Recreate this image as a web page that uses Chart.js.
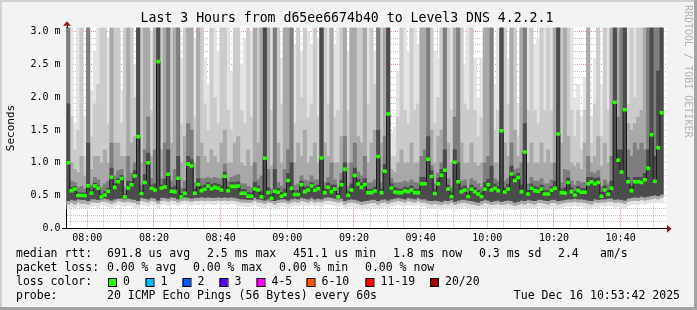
<!DOCTYPE html>
<html>
<head>
<meta charset="utf-8">
<script src="https://cdn.jsdelivr.net/npm/chart.js@4.4.1/dist/chart.umd.min.js"></script>
<style>
  html, body { margin: 0; padding: 0; background: #f3f3f3; }
  canvas { display: block; }
</style>
</head>
<body>
<canvas id="chart" width="697" height="310"></canvas>
<script>
// Median RTT per minute (ms), 07:54 .. 10:53 (last slot has no data yet)
const median = [
  1.0,0.575,0.6,0.5,0.5,0.5,0.65,0.54,0.645,0.61,
  0.48,0.51,0.565,0.78,0.625,0.71,0.76,0.48,0.615,0.665,
  0.8,1.4,0.53,0.7,1.0,0.61,0.585,2.545,0.615,0.63,
  0.825,0.565,0.56,0.765,0.48,0.535,0.98,0.95,0.535,0.67,
  0.575,0.595,0.645,0.605,0.625,0.61,0.585,0.795,0.575,0.64,
  0.64,0.645,0.535,0.535,0.49,0.49,0.6,0.585,0.48,1.07,
  0.545,0.46,0.565,0.55,0.49,0.515,0.73,0.61,0.515,0.515,
  0.665,0.56,0.585,0.645,0.58,0.605,1.075,0.545,0.625,0.56,
  0.6,0.48,0.665,0.9,0.505,0.585,0.805,0.675,0.625,0.67,
  0.545,0.545,0.57,1.095,0.545,0.87,1.745,0.615,0.555,0.545,
  0.545,0.57,0.56,0.585,0.545,0.545,0.68,0.68,1.055,0.79,
  0.53,0.68,0.81,0.885,0.6,0.485,1.01,0.71,0.56,0.585,
  0.485,0.595,0.56,0.525,0.485,0.595,0.665,0.585,0.61,0.575,
  1.49,0.555,0.6,0.83,0.73,0.775,0.56,1.165,0.525,0.61,
  0.575,0.565,0.6,0.525,0.525,0.58,0.61,1.44,0.545,0.54,
  0.7,0.56,0.51,0.575,0.55,0.55,0.68,0.71,0.68,0.7,
  0.49,0.585,0.52,0.61,1.925,1.04,0.86,1.81,0.71,0.575,
  0.71,0.71,0.7,0.74,0.915,1.43,0.72,1.23,1.765,null
];

// Smoke: lower edges (outer light, middle, inner dark)
const lowOuter = [
  0.30,0.33,0.30,0.34,0.32,0.31,0.30,0.33,0.34,0.32,
  0.36,0.35,0.33,0.31,0.34,0.36,0.35,0.33,0.35,0.34,
  0.32,0.30,0.36,0.35,0.33,0.36,0.35,0.31,0.36,0.37,
  0.35,0.38,0.36,0.34,0.37,0.38,0.36,0.35,0.37,0.36,
  0.37,0.36,0.38,0.37,0.36,0.38,0.36,0.37,0.36,0.38,
  0.37,0.35,0.34,0.33,0.33,0.34,0.36,0.33,0.32,0.31,
  0.34,0.33,0.30,0.32,0.34,0.33,0.31,0.33,0.35,0.34,
  0.36,0.35,0.34,0.36,0.34,0.35,0.33,0.36,0.37,0.36,
  0.35,0.33,0.35,0.30,0.33,0.34,0.32,0.31,0.29,0.30,
  0.31,0.33,0.32,0.30,0.32,0.33,0.31,0.34,0.35,0.36,
  0.35,0.34,0.36,0.35,0.34,0.36,0.33,0.34,0.31,0.30,
  0.31,0.30,0.29,0.31,0.30,0.32,0.29,0.31,0.32,0.33,
  0.31,0.30,0.29,0.28,0.30,0.32,0.31,0.29,0.30,0.31,
  0.29,0.30,0.31,0.30,0.28,0.29,0.31,0.30,0.32,0.31,
  0.30,0.33,0.32,0.31,0.30,0.33,0.32,0.30,0.31,0.33,
  0.34,0.33,0.35,0.33,0.34,0.32,0.31,0.30,0.33,0.32,
  0.34,0.33,0.35,0.34,0.32,0.33,0.32,0.31,0.34,0.36,
  0.37,0.36,0.38,0.37,0.38,0.39,0.40,0.39,0.41,null
];
const lowMid = [
  0.37,0.39,0.37,0.40,0.38,0.38,0.37,0.40,0.40,0.39,
  0.41,0.41,0.40,0.38,0.40,0.42,0.41,0.40,0.41,0.40,
  0.39,0.37,0.42,0.41,0.40,0.42,0.41,0.38,0.42,0.43,
  0.41,0.43,0.42,0.40,0.42,0.43,0.42,0.41,0.42,0.42,
  0.43,0.42,0.43,0.42,0.42,0.43,0.42,0.43,0.42,0.43,
  0.42,0.41,0.40,0.40,0.39,0.40,0.42,0.40,0.39,0.38,
  0.40,0.39,0.37,0.39,0.40,0.40,0.38,0.40,0.41,0.40,
  0.42,0.41,0.40,0.42,0.40,0.41,0.40,0.42,0.43,0.42,
  0.41,0.40,0.41,0.37,0.39,0.40,0.39,0.38,0.36,0.37,
  0.38,0.39,0.39,0.37,0.39,0.40,0.38,0.40,0.41,0.42,
  0.41,0.40,0.42,0.41,0.40,0.42,0.40,0.40,0.38,0.37,
  0.38,0.37,0.36,0.38,0.37,0.39,0.36,0.38,0.39,0.39,
  0.38,0.37,0.36,0.35,0.37,0.39,0.38,0.36,0.37,0.38,
  0.36,0.37,0.38,0.37,0.35,0.36,0.38,0.37,0.39,0.38,
  0.37,0.39,0.39,0.38,0.37,0.39,0.39,0.37,0.38,0.39,
  0.40,0.40,0.41,0.40,0.40,0.39,0.38,0.37,0.40,0.39,
  0.40,0.40,0.41,0.41,0.39,0.40,0.39,0.38,0.41,0.42,
  0.43,0.42,0.44,0.43,0.44,0.45,0.46,0.45,0.47,null
];
const lowInner = [
  0.42,0.44,0.43,0.45,0.44,0.44,0.42,0.45,0.45,0.44,
  0.45,0.46,0.45,0.43,0.45,0.46,0.46,0.45,0.46,0.45,
  0.44,0.42,0.47,0.46,0.45,0.47,0.46,0.43,0.47,0.47,
  0.46,0.48,0.47,0.45,0.46,0.48,0.47,0.46,0.47,0.47,
  0.48,0.47,0.48,0.47,0.47,0.48,0.47,0.48,0.47,0.48,
  0.47,0.46,0.45,0.45,0.44,0.44,0.47,0.45,0.44,0.43,
  0.45,0.43,0.42,0.44,0.45,0.45,0.43,0.45,0.46,0.45,
  0.47,0.46,0.45,0.47,0.45,0.46,0.45,0.47,0.48,0.47,
  0.46,0.45,0.46,0.42,0.44,0.45,0.44,0.43,0.41,0.42,
  0.43,0.44,0.44,0.42,0.44,0.45,0.43,0.45,0.46,0.47,
  0.46,0.45,0.47,0.46,0.45,0.47,0.45,0.45,0.43,0.42,
  0.43,0.42,0.41,0.43,0.42,0.44,0.41,0.43,0.44,0.44,
  0.43,0.42,0.41,0.40,0.42,0.44,0.43,0.41,0.42,0.43,
  0.41,0.42,0.43,0.42,0.40,0.41,0.43,0.42,0.44,0.43,
  0.42,0.44,0.44,0.43,0.42,0.44,0.44,0.42,0.43,0.44,
  0.45,0.45,0.46,0.45,0.45,0.44,0.43,0.42,0.45,0.44,
  0.45,0.45,0.46,0.46,0.44,0.45,0.44,0.43,0.46,0.47,
  0.48,0.47,0.49,0.48,0.49,0.50,0.51,0.50,0.52,null
];

// Smoke: upper edges, outermost (lightest) to innermost (darkest); 3.2 = off the top
const top1 = [
  3.2,3.2,1.6,3.2,3.2,1.7,3.2,2.1,2.7,3.2,
  3.2,3.2,2.9,3.2,3.2,3.2,2.1,3.2,3.2,3.2,
  2.5,3.2,3.2,3.2,3.2,3.0,3.2,3.2,3.2,3.2,
  3.2,3.2,3.2,3.2,2.6,3.2,3.2,3.2,2.9,3.2,
  3.2,2.6,2.2,3.2,3.2,2.7,3.2,3.2,3.2,2.4,
  3.2,3.2,2.5,2.9,3.2,3.0,3.2,3.2,3.2,3.2,
  3.2,3.2,3.2,3.2,2.6,3.2,3.2,3.2,2.8,3.2,
  2.7,3.2,3.0,2.8,3.2,2.9,3.2,3.2,3.2,3.2,
  2.8,3.2,3.2,3.2,2.7,3.2,3.2,3.2,3.2,3.2,
  3.2,3.2,2.7,3.2,3.2,3.2,3.2,1.45,1.55,2.4,
  3.2,3.2,2.7,3.2,3.2,2.8,3.2,3.2,3.2,3.2,
  2.7,2.6,3.2,3.2,3.2,3.2,3.2,3.2,3.2,2.5,
  3.2,3.2,2.6,2.0,2.6,3.2,3.2,3.2,2.2,3.2,
  3.2,3.2,2.6,3.2,3.2,1.9,3.2,3.2,3.2,3.2,
  2.8,2.9,3.2,3.2,3.2,3.2,3.2,3.2,3.2,3.2,
  3.2,3.2,2.0,2.2,1.7,2.3,3.2,1.7,2.6,3.2,
  2.2,3.2,3.2,3.2,3.2,3.2,3.2,3.2,3.2,3.2,
  3.2,3.2,3.2,3.2,3.2,3.2,3.2,3.2,3.2,null
];
const top2 = [
  3.2,1.7,1.2,1.5,3.2,1.1,3.2,1.4,1.9,2.2,
  3.2,3.2,1.6,3.2,3.2,3.2,1.6,3.2,3.2,3.2,
  2.0,3.2,3.2,3.2,3.2,1.8,3.2,3.2,3.2,3.2,
  3.2,3.2,3.2,3.2,1.6,3.2,3.2,3.2,1.7,3.2,
  3.2,1.9,1.5,3.2,2.0,1.6,3.2,3.2,1.8,1.5,
  3.2,3.2,1.8,1.6,3.2,1.7,3.2,3.2,3.2,3.2,
  3.2,1.8,3.2,3.2,1.9,3.2,3.2,3.2,1.6,3.2,
  2.0,3.2,1.7,1.9,3.2,1.7,3.2,3.2,1.9,3.2,
  1.7,1.8,3.2,3.2,1.8,3.2,3.2,3.2,3.2,3.2,
  1.9,3.2,2.2,3.2,3.2,3.2,3.2,1.1,1.1,1.7,
  3.2,1.8,1.6,3.2,1.8,1.9,3.2,3.2,3.2,3.2,
  1.6,2.0,3.2,3.2,3.2,1.8,3.2,3.2,3.2,1.9,
  1.8,3.2,1.8,1.4,1.7,3.2,3.2,3.2,1.5,1.8,
  3.2,3.2,1.9,3.2,3.2,1.4,3.2,3.2,1.8,3.2,
  1.8,1.6,3.2,1.8,3.2,1.8,3.2,3.2,3.2,3.2,
  3.2,1.8,1.4,1.8,1.2,1.8,3.2,1.3,1.9,3.2,
  1.4,3.2,1.8,3.2,3.2,3.2,3.2,3.2,1.9,3.2,
  2.0,3.2,3.2,3.2,3.2,3.2,3.2,3.2,3.2,null
];
const top3 = [
  3.2,1.0,0.9,0.85,1.1,0.8,3.2,0.9,1.1,1.1,
  1.0,1.2,1.0,3.2,1.3,1.3,1.1,1.1,3.2,1.3,
  1.4,3.2,1.0,3.2,3.2,1.1,3.2,3.2,1.2,3.2,
  3.2,1.3,3.2,3.2,1.0,1.4,3.2,3.2,1.0,3.2,
  1.3,1.1,1.0,1.2,1.1,1.0,1.3,1.5,1.0,1.0,
  1.3,1.4,1.0,0.95,1.2,0.95,3.2,1.3,3.2,3.2,
  3.2,0.95,3.2,1.3,1.0,3.2,3.2,3.2,1.0,1.3,
  1.1,1.5,1.0,1.1,1.3,1.0,3.2,1.3,1.1,3.2,
  1.0,1.0,1.4,3.2,1.0,3.2,3.2,1.4,1.3,3.2,
  1.0,1.3,1.5,3.2,1.3,3.2,3.2,0.9,0.85,1.0,
  1.2,1.0,1.0,1.3,1.0,1.0,3.2,3.2,3.2,1.5,
  1.0,1.4,1.5,3.2,1.3,1.0,3.2,3.2,1.3,1.0,
  1.0,1.3,1.0,0.95,1.0,3.2,3.2,3.2,1.0,1.0,
  3.2,1.3,1.1,3.2,1.5,1.1,3.2,3.2,1.0,1.3,
  1.0,1.0,1.3,1.0,1.2,1.0,3.2,3.2,1.3,3.2,
  1.4,1.0,0.95,1.0,0.9,1.3,3.2,1.0,1.1,1.4,
  0.95,1.3,1.0,3.2,3.2,3.2,3.2,3.2,1.6,1.5,
  1.6,1.7,1.8,3.2,3.2,3.2,3.2,3.2,3.2,null
];
const top4 = [
  3.2,0.72,0.7,0.62,0.64,0.6,3.2,0.66,0.78,0.74,
  0.62,0.68,0.72,1.3,0.8,0.88,0.9,0.62,1.1,0.84,
  1.0,3.2,0.66,1.2,1.7,0.76,1.2,3.2,0.76,1.3,
  3.2,0.72,0.9,3.2,0.62,0.72,1.6,1.5,0.7,1.1,
  0.76,0.76,0.78,0.76,0.78,0.76,0.76,0.98,0.72,0.78,
  0.8,0.82,0.68,0.68,0.64,0.62,1.0,0.74,0.8,3.2,
  0.9,0.6,3.2,0.7,0.64,0.9,1.2,3.2,0.66,0.68,
  0.8,0.74,0.72,0.8,0.74,0.74,3.2,0.7,0.78,1.0,
  0.74,0.62,0.84,1.4,0.64,1.0,1.3,0.86,0.8,1.1,
  0.7,0.7,0.74,3.2,0.7,1.4,3.2,0.76,0.7,0.7,
  0.7,0.72,0.7,0.74,0.7,0.7,1.1,1.2,3.2,0.96,
  0.68,0.84,1.0,3.2,0.76,0.62,1.7,3.2,0.72,0.74,
  0.62,0.76,0.72,0.68,0.62,1.0,1.1,3.2,0.76,0.72,
  3.2,0.72,0.76,1.3,0.9,0.92,1.0,3.2,0.68,0.78,
  0.72,0.72,0.76,0.68,0.68,0.74,1.0,3.2,0.7,0.9,
  0.88,0.72,0.66,0.72,0.7,0.7,1.1,0.86,0.84,0.88,
  0.64,0.74,0.68,1.1,3.2,1.7,3.2,3.2,1.2,1.1,
  1.3,1.2,1.3,1.2,3.2,3.2,3.2,3.2,3.2,null
];
const top5 = [
  1.9,0.62,0.64,0.54,0.54,0.54,1.3,0.58,0.69,0.65,
  0.52,0.56,0.61,0.92,0.68,0.76,0.81,0.52,0.72,0.71,
  0.88,3.2,0.57,0.82,1.15,0.66,0.68,3.2,0.66,0.75,
  1.2,0.62,0.64,1.1,0.53,0.6,1.1,1.05,0.6,0.76,
  0.64,0.66,0.7,0.67,0.69,0.67,0.65,0.86,0.63,0.7,
  0.7,0.71,0.59,0.59,0.55,0.54,0.7,0.65,0.56,3.2,
  0.62,0.52,0.9,0.61,0.55,0.6,0.84,1.0,0.57,0.58,
  0.72,0.63,0.64,0.7,0.64,0.66,3.2,0.6,0.69,0.66,
  0.66,0.53,0.73,1.0,0.56,0.68,0.92,0.75,0.7,0.76,
  0.6,0.6,0.63,1.5,0.6,0.98,3.2,0.68,0.62,0.6,
  0.6,0.63,0.62,0.65,0.6,0.6,0.78,0.78,1.4,0.88,
  0.59,0.76,0.9,1.2,0.66,0.54,1.2,1.0,0.62,0.65,
  0.54,0.66,0.62,0.58,0.54,0.7,0.75,0.95,0.68,0.64,
  3.2,0.62,0.67,0.95,0.8,0.84,0.66,1.6,0.58,0.68,
  0.64,0.62,0.66,0.58,0.58,0.64,0.72,3.2,0.6,0.62,
  0.77,0.62,0.56,0.64,0.61,0.61,0.78,0.78,0.76,0.77,
  0.55,0.65,0.58,0.72,3.2,1.2,1.2,3.2,0.78,0.64,
  0.78,0.78,0.78,0.84,1.2,3.2,1.1,2.4,3.2,null
];

// Axis ticks: minutes since the start of the graph (07:53:45)
const xTickPos = [6.24, 26.24, 46.24, 66.24, 86.24, 106.24, 126.24, 146.24, 166.24];
const xTickLabels = ['08:00','08:20','08:40','09:00','09:20','09:40','10:00','10:20','10:40'];
const yTickPos = [0, 0.5, 1.0, 1.5, 2.0, 2.5, 3.0];
const yTickLabels = ['0.0','0.5 m','1.0 m','1.5 m','2.0 m','2.5 m','3.0 m'];

const lossLabels = ['0','1','2','3','4-5','6-10','11-19','20/20'];
const lossColors = ['#26ff00','#00b8ff','#0059ff','#5e00ff','#ff00ff','#ff5500','#ff0000','#a10000'];

const MONO = '"DejaVu Sans Mono", monospace';
const MAJOR_GRID = 'rgba(226,110,110,0.75)';
const MINOR_GRID = 'rgba(140,140,140,0.55)';

function band(lo, hi) {
    const out = [];
    median.forEach((m, i) => {
        if (m !== null) out.push({ x: i + 0.5, y: [lo[i], hi[i]] });
    });
    return out;
}

function barSet(label, data, color, order) {
    return {
        type: 'bar', label, data, order,
        backgroundColor: color,
        borderWidth: 0,
        grouped: false,
        barPercentage: 1.0,
        categoryPercentage: 1.0
    };
}

const medianPoints = [];
const medianBoxes = [];
median.forEach((m, i) => {
    if (m === null) return;
    medianPoints.push({ x: i + 0.5, y: m });
    medianBoxes.push({ x: i + 0.5, y: [m - 0.022, m + 0.022] });
});

const datasets = [
    barSet('loss 0', medianBoxes, '#26ff00', 0),
    {
        type: 'line', label: 'median', data: medianPoints, order: 1,
        borderColor: '#1c1c1c', borderWidth: 1, pointRadius: 0,
        stepped: 'middle', fill: false
    },
    barSet('s5', band(lowInner, top5), '#4c4c4c', 2),
    barSet('s4', band(lowInner, top4), '#7e7e7e', 3),
    barSet('s3', band(lowMid, top3), '#a9a9a9', 4),
    barSet('s2', band(lowMid, top2), '#cbcbcb', 5),
    barSet('s1', band(lowOuter, top1), '#e3e3e3', 6)
];

// Background, frame, title, legend and arrows
const decorations = {
    id: 'decorations',
    beforeDraw(chart) {
        const { ctx, chartArea: a } = chart;
        ctx.save();
        ctx.fillStyle = '#f3f3f3';
        ctx.fillRect(0, 0, 697, 310);
        ctx.fillStyle = '#d2d2d2';
        ctx.fillRect(0, 0, 697, 2);
        ctx.fillRect(0, 0, 2, 310);
        ctx.fillStyle = '#a3a3a3';
        ctx.fillRect(694, 0, 3, 310);
        ctx.fillRect(0, 307, 697, 3);
        ctx.fillStyle = '#ffffff';
        ctx.fillRect(a.left, a.top, a.right - a.left, a.bottom - a.top);
        ctx.restore();
    },
    afterDraw(chart) {
        const { ctx, chartArea: a } = chart;
        ctx.save();
        ctx.fillStyle = '#000';

        // title
        ctx.font = '13.2px ' + MONO;
        ctx.textAlign = 'center';
        ctx.textBaseline = 'middle';
        ctx.fillText('Last 3 Hours from d65ee6674b40 to Level3 DNS 4.2.2.1', 347, 19);

        // vertical axis title
        ctx.save();
        ctx.translate(11, 128);
        ctx.rotate(-Math.PI / 2);
        ctx.font = '11px ' + MONO;
        ctx.fillText('Seconds', 0, 0);
        ctx.restore();

        // watermark
        ctx.save();
        ctx.translate(688, 5);
        ctx.rotate(Math.PI / 2);
        ctx.font = '10px ' + MONO;
        ctx.fillStyle = '#b4b4b4';
        ctx.textAlign = 'left';
        ctx.fillText('RRDTOOL / TOBI OETIKER', 0, 0);
        ctx.restore();

        // axis extensions and arrows
        ctx.strokeStyle = '#000';
        ctx.lineWidth = 1;
        ctx.beginPath();
        ctx.moveTo(62, Math.round(a.bottom) + 0.5);
        ctx.lineTo(a.right + 2, Math.round(a.bottom) + 0.5);
        ctx.moveTo(Math.round(a.left) + 0.5, a.top);
        ctx.lineTo(Math.round(a.left) + 0.5, a.top - 3);
        ctx.stroke();
        ctx.fillStyle = '#8b1a1a';
        ctx.beginPath();
        ctx.moveTo(a.right + 0.5, a.bottom - 3.5);
        ctx.lineTo(a.right + 5, a.bottom + 0.5);
        ctx.lineTo(a.right + 0.5, a.bottom + 4.5);
        ctx.closePath();
        ctx.fill();
        ctx.beginPath();
        ctx.moveTo(a.left - 3.5, a.top - 2);
        ctx.lineTo(a.left + 0.5, a.top - 6.5);
        ctx.lineTo(a.left + 4.5, a.top - 2);
        ctx.closePath();
        ctx.fill();

        // legend
        ctx.fillStyle = '#000';
        ctx.font = '11.5px ' + MONO;
        ctx.textAlign = 'left';
        ctx.textBaseline = 'middle';
        const rows = [
            [254, [[16, 'median rtt:'], [107, '691.8 us avg'], [207, '2.5 ms max'], [293, '451.1 us min'],
                   [393, '1.8 ms now'], [479, '0.3 ms sd'], [558, '2.4'], [600, 'am/s']]],
            [268.5, [[16, 'packet loss:'], [107, '0.00 % avg'], [193, '0.00 % max'], [279, '0.00 % min'],
                   [365, '0.00 % now']]],
            [282.5, [[16, 'loss color:']]],
            [296.5, [[16, 'probe:'], [107, '20 ICMP Echo Pings (56 Bytes) every 60s']]]
        ];
        rows.forEach(([y, items]) => items.forEach(([x, t]) => ctx.fillText(t, x, y)));
        ctx.textAlign = 'right';
        ctx.fillText('Tue Dec 16 10:53:42 2025', 680, 296.5);
        ctx.textAlign = 'left';

        const boxX = [108, 145.5, 182.5, 219.5, 256.5, 306.5, 365.5, 430];
        lossLabels.forEach((lab, i) => {
            ctx.fillStyle = lossColors[i];
            ctx.fillRect(boxX[i], 278.5, 8, 8);
            ctx.strokeStyle = '#000';
            ctx.strokeRect(boxX[i] + 0.5, 278.5, 8, 8);
            ctx.fillStyle = '#000';
            ctx.fillText(lab, boxX[i] + 15, 282.5);
        });
        ctx.restore();
    }
};

const ctx = document.getElementById('chart').getContext('2d');
const chart = new Chart(ctx, {
    type: 'bar',
    data: { datasets },
    options: {
        responsive: false,
        animation: false,
        devicePixelRatio: 1,
        layout: { padding: { left: 0, right: 30.5, top: 27.7, bottom: 61.7 } },
        plugins: {
            legend: { display: false },
            tooltip: { enabled: false }
        },
        scales: {
            x: {
                type: 'linear',
                min: 0,
                max: 180,
                offset: false,
                z: 1,
                afterBuildTicks: (scale) => {
                    const ticks = [];
                    for (let v = xTickPos[0] - 5; v < 180; v += 5) {
                        const k = xTickPos.findIndex(p => Math.abs(p - v) < 0.01);
                        ticks.push({ value: v, major: k >= 0 });
                    }
                    scale.ticks = ticks;
                },
                afterFit: (scale) => { scale.height = 20; },
                grid: {
                    drawTicks: false,
                    offset: false,
                    lineWidth: 1,
                    color: (c) => (c.tick && c.tick.major) ? MAJOR_GRID : MINOR_GRID
                },
                border: { display: true, color: '#000', width: 1, dash: [1, 1] },
                ticks: {
                    autoSkip: false,
                    maxRotation: 0,
                    padding: 4,
                    color: '#000',
                    font: { family: MONO, size: 10 },
                    callback: (v) => {
                        const k = xTickPos.findIndex(p => Math.abs(p - v) < 0.01);
                        return k >= 0 ? xTickLabels[k] : '';
                    }
                }
            },
            y: {
                type: 'linear',
                min: 0,
                max: 3.063,
                z: 1,
                afterBuildTicks: (scale) => {
                    const ticks = [];
                    for (let n = 0; n <= 30; n++) {
                        ticks.push({ value: n / 10, major: n % 5 === 0 });
                    }
                    scale.ticks = ticks;
                },
                afterFit: (scale) => { scale.width = 66.5; },
                grid: {
                    drawTicks: false,
                    lineWidth: 1,
                    color: (c) => (c.tick && c.tick.major) ? MAJOR_GRID : MINOR_GRID
                },
                border: { display: true, color: '#000', width: 1, dash: [1, 1] },
                ticks: {
                    autoSkip: false,
                    padding: 6,
                    color: '#000',
                    font: { family: MONO, size: 10 },
                    callback: (v) => {
                        const k = yTickPos.findIndex(p => Math.abs(p - v) < 0.001);
                        return k >= 0 ? yTickLabels[k] : '';
                    }
                }
            }
        }
    },
    plugins: [decorations]
});
</script>
</body>
</html>
